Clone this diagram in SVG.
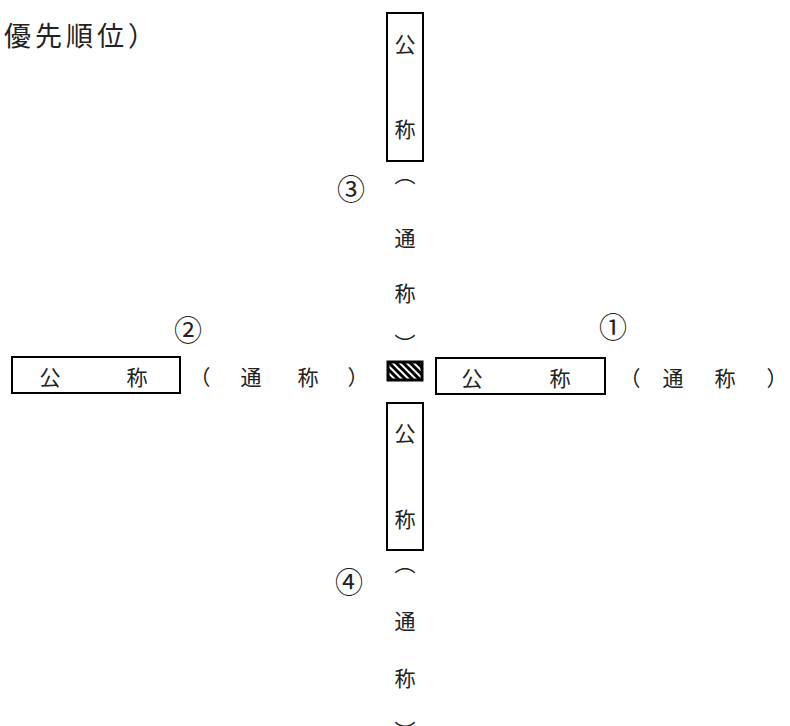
<svg xmlns="http://www.w3.org/2000/svg" width="790" height="726" viewBox="0 0 790 726">
<defs>
<style>
.t{font-family:"Noto Sans CJK JP","Noto Sans CJK SC",sans-serif;font-size:21px;fill:#222;text-anchor:middle;dominant-baseline:central}
.n{font-family:"DejaVu Serif","Noto Sans CJK JP",serif;font-size:28px;fill:#222;text-anchor:middle;dominant-baseline:central}
.h{font-family:"Noto Sans CJK JP",sans-serif;font-size:27px;fill:#222;letter-spacing:4px;dominant-baseline:central}
.box{fill:#fff;stroke:#000;stroke-width:2}
</style>
<pattern id="hatch" patternUnits="userSpaceOnUse" width="5" height="5" patternTransform="rotate(-45)">
<rect width="5" height="5" fill="#000"/>
<rect x="0" y="0" width="2" height="5" fill="#fff"/>
</pattern>
</defs>
<text class="h" x="4" y="34">優先順位）</text>
<g id="connectors"/>
<g id="center">
<rect x="388" y="362" width="34" height="18" fill="url(#hatch)" stroke="#000" stroke-width="3"/>
</g>
<g id="north">
<rect class="box" x="387" y="13" width="36" height="148"/>
<text class="t" x="405" y="43">公</text>
<text class="t" x="405" y="128">称</text>
<text class="t" x="405" y="173">︵</text>
<text class="t" x="405" y="237">通</text>
<text class="t" x="405" y="292">称</text>
<text class="t" x="405" y="343">︶</text>
<text class="n" x="351" y="190">③</text>
</g>
<g id="west">
<rect class="box" x="12" y="357" width="168" height="36"/>
<text class="t" x="50" y="376">公</text>
<text class="t" x="137" y="376">称</text>
<text class="t" x="200" y="376">（</text>
<text class="t" x="251" y="376">通</text>
<text class="t" x="308" y="376">称</text>
<text class="t" x="358" y="376">）</text>
<text class="n" x="188" y="331">②</text>
</g>
<g id="east">
<rect class="box" x="436" y="358" width="169" height="36"/>
<text class="t" x="472" y="377">公</text>
<text class="t" x="560" y="377">称</text>
<text class="t" x="630" y="377">（</text>
<text class="t" x="673" y="377">通</text>
<text class="t" x="725" y="377">称</text>
<text class="t" x="777" y="377">）</text>
<text class="n" x="613" y="328">①</text>
</g>
<g id="south">
<rect class="box" x="387" y="403" width="36" height="147"/>
<text class="t" x="405" y="432">公</text>
<text class="t" x="405" y="518">称</text>
<text class="t" x="405" y="562">︵</text>
<text class="t" x="405" y="620">通</text>
<text class="t" x="405" y="677">称</text>
<text class="t" x="405" y="730">︶</text>
<text class="n" x="349" y="583">④</text>
</g>
</svg>
